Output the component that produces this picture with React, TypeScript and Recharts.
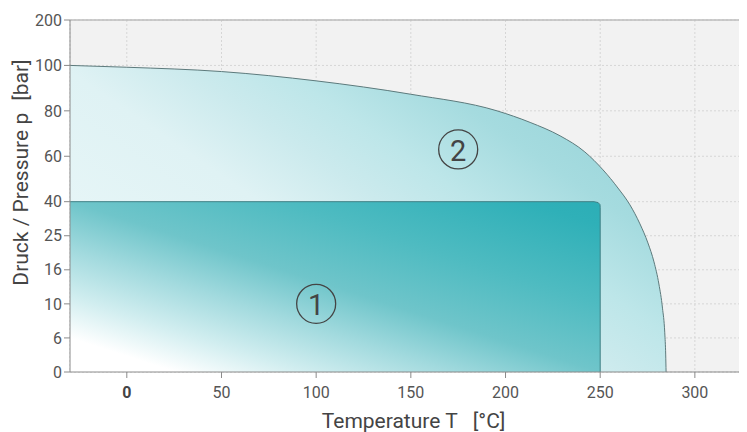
import React from 'react';
import {
  ComposedChart,
  Area,
  XAxis,
  YAxis,
  CartesianGrid,
  ReferenceLine,
  ReferenceDot,
  Label,
} from 'recharts';

// axis ticks
const TEMP_TICKS = [0, 50, 100, 150, 200, 250, 300];
const PRESSURE_TICKS = [0, 6, 10, 16, 25, 40, 60, 80, 100, 200];

// zone 2: outer limit curve (T in °C, p in bar)
const zone2Temp = [
  -30, 0, 50, 100, 150, 195.5, 213, 228.8, 241.9, 251.5, 259.4, 265.7, 271, 275.2, 278.4, 281, 282.9, 284.1, 284.6, 284.8,
];
const zone2Pressure = [
  100, 99.2, 97.3, 93.2, 87.3, 80, 74.9, 69, 61.9, 54, 46, 38.6, 30.2, 23.1, 18.1, 13.5, 9.5, 6.6, 3, 0,
];

// zone 1: inner rectangle with a rounded corner
const zone1Temp = [-30, 246.8, 248.9, 249.9, 250, 250];
const zone1Pressure = [40, 40, 39.6, 38.7, 37.4, 0];

// circled zone markers
const markers = [
  { text: '1', t: 100, p: 10 },
  { text: '2', t: 175, p: 63 },
];

// the pressure axis is not linear: lower ticks are spaced 3 units, upper 4
const tickPos = PRESSURE_TICKS.map((_, i) => (i <= 5 ? 3 * i : 15 + 4 * (i - 5)));

const toPos = (p: number) => {
  for (let i = 1; i < PRESSURE_TICKS.length; i++) {
    if (p <= PRESSURE_TICKS[i]) {
      const a = PRESSURE_TICKS[i - 1];
      const b = PRESSURE_TICKS[i];
      return tickPos[i - 1] + ((p - a) / (b - a)) * (tickPos[i] - tickPos[i - 1]);
    }
  }
  return tickPos[tickPos.length - 1];
};

const zone2Data = zone2Temp.map((t, i) => ({ t, y: toPos(zone2Pressure[i]) }));
const zone1Data = zone1Temp.map((t, i) => ({ t, y: toPos(zone1Pressure[i]) }));

const FONT = 'Roboto, sans-serif';
const TEXT = '#555';

const XTick = (props: any) => {
  const { x, y, payload } = props;
  return (
    <text
      x={x}
      y={y}
      dy="0.71em"
      textAnchor="middle"
      fontSize={16}
      fontFamily={FONT}
      fill={payload.value === 0 ? '#444' : TEXT}
      fontWeight={payload.value === 0 ? 'bold' : 'normal'}
    >
      {payload.value}
    </text>
  );
};

const App = () => {
  const maxPos = tickPos[tickPos.length - 1];
  return (
    <ComposedChart
      width={739}
      height={424}
      margin={{ top: 12, right: 1, left: 0, bottom: 0 }}
      style={{ fontFamily: FONT }}
    >
      <defs>
        <linearGradient id="zone2Fill" x1="0" y1="1" x2="1" y2="0.25">
          <stop offset="0%" stopColor="#eef9fa" />
          <stop offset="47%" stopColor="#dff2f4" />
          <stop offset="60%" stopColor="#cbeaed" />
          <stop offset="70%" stopColor="#bde6e9" />
          <stop offset="84%" stopColor="#a5dbdf" />
          <stop offset="100%" stopColor="#98d4d9" />
        </linearGradient>
        <linearGradient id="zone1Fill" x1="0" y1="1" x2="1" y2="0">
          <stop offset="0%" stopColor="#ffffff" />
          <stop offset="10%" stopColor="#ffffff" />
          <stop offset="22%" stopColor="#d2eef0" />
          <stop offset="36%" stopColor="#a2dade" />
          <stop offset="50%" stopColor="#6fc5ca" />
          <stop offset="70%" stopColor="#4ebbc1" />
          <stop offset="93%" stopColor="#2fb0b8" />
          <stop offset="100%" stopColor="#2caeb6" />
        </linearGradient>
      </defs>
      <CartesianGrid stroke="#d6d6d6" strokeDasharray="2 2" fill="#f2f2f2" />
      <XAxis
        type="number"
        dataKey="t"
        domain={[-30, 327]}
        ticks={TEMP_TICKS}
        allowDataOverflow
        height={60}
        tickSize={6}
        tickMargin={9}
        stroke="#8a8a8a"
        tick={<XTick />}
      >
        <Label
          content={({ viewBox }: any) => (
            <text
              x={viewBox.x + viewBox.width / 2 + 5.5}
              y={viewBox.y + 56}
              textAnchor="middle"
              fontSize={21}
              fontFamily={FONT}
              fill="#444"
            >
              Temperature T
              <tspan dx={15}>[°C]</tspan>
            </text>
          )}
        />
      </XAxis>
      <YAxis
        type="number"
        dataKey="y"
        domain={[0, maxPos]}
        ticks={tickPos}
        interval={0}
        width={62}
        tickSize={6}
        tickMargin={2}
        stroke="#8a8a8a"
        tick={{ fill: TEXT, fontSize: 16, fontFamily: FONT }}
        tickFormatter={(v: number) => String(PRESSURE_TICKS[tickPos.indexOf(v)] ?? '')}
      >
        <Label
          content={() => (
            <text
              x={0}
              y={0}
              transform="translate(20, 164.5) rotate(-90)"
              textAnchor="middle"
              fontSize={21}
              fontFamily={FONT}
              fill="#444"
            >
              Druck / Pressure p
              <tspan dx={12}>[bar]</tspan>
            </text>
          )}
        />
      </YAxis>
      <ReferenceLine y={maxPos} stroke="#bdbdbd" strokeWidth={1.5} />
      <Area
        data={zone2Data}
        dataKey="y"
        type="monotone"
        stroke="#5d7a7c"
        strokeWidth={1}
        fill="url(#zone2Fill)"
        fillOpacity={1}
        isAnimationActive={false}
        dot={false}
        activeDot={false}
      />
      <Area
        data={zone1Data}
        dataKey="y"
        type="linear"
        stroke="#3f8085"
        strokeWidth={1}
        fill="url(#zone1Fill)"
        fillOpacity={1}
        isAnimationActive={false}
        dot={false}
        activeDot={false}
      />
      {markers.map((m) => (
        <ReferenceDot
          key={m.text}
          x={m.t}
          y={toPos(m.p)}
          r={19.5}
          fill="none"
          stroke="#444"
          strokeWidth={1.3}
          label={{ value: m.text, position: 'center', fontSize: 29, fill: '#444', fontFamily: FONT, dy: 1 }}
        />
      ))}
    </ComposedChart>
  );
};

export default App;
